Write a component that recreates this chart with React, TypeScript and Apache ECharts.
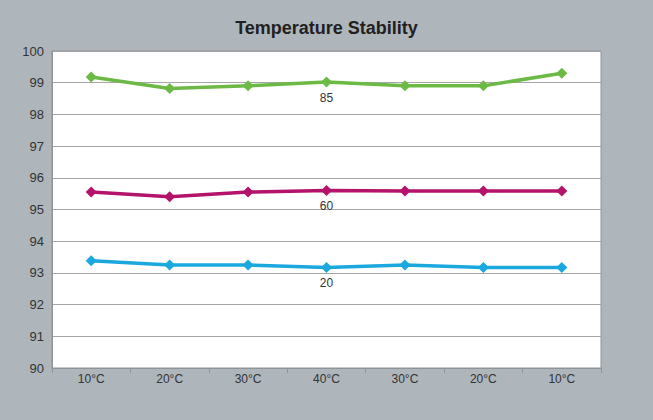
import React, { useEffect, useRef } from "react";
import * as echarts from "echarts";

const categories = ["10°C", "20°C", "30°C", "40°C", "30°C", "20°C", "10°C"];
const s85 = [99.18, 98.82, 98.9, 99.02, 98.9, 98.9, 99.3];
const s60 = [95.55, 95.4, 95.55, 95.6, 95.58, 95.58, 95.58];
const s20 = [93.38, 93.25, 93.25, 93.17, 93.25, 93.17, 93.17];
const seriesNames = ["85", "60", "20"];
const labelIndex = 3;

export default function App() {
  const ref = useRef<HTMLDivElement>(null);
  useEffect(() => {
    if (!ref.current) return;
    const chart = echarts.init(ref.current, undefined, { renderer: "svg" });
    const mk = (name: string, data: number[], color: string) => ({
      name,
      type: "line",
      data: data.map((v, i) =>
        i === labelIndex
          ? {
              value: v,
              label: {
                show: true,
                position: "bottom",
                distance: 4,
                formatter: name,
                color: "#333",
                fontSize: 12,
                fontFamily: "Liberation Sans, Arial, sans-serif",
              },
            }
          : v
      ),
      symbol: "diamond",
      symbolSize: 11,
      lineStyle: { color, width: 3.5 },
      itemStyle: { color },
      z: 3,
    });
    chart.setOption({
      animation: false,
      backgroundColor: "#aeb5bb",
      textStyle: { fontFamily: "Liberation Sans, Arial, sans-serif" },
      title: {
        text: "Temperature Stability",
        left: "center",
        top: 14,
        textStyle: { fontSize: 18, fontWeight: "bold", color: "#231f20" },
      },
      grid: {
        left: 52,
        right: 52,
        top: 51,
        bottom: 52,
        show: true,
        backgroundColor: "#ffffff",
        borderColor: "#8e9398",
        borderWidth: 1,
      },
      xAxis: {
        type: "category",
        data: categories,
        boundaryGap: true,
        axisLine: { lineStyle: { color: "#8e9398", width: 1 } },
        axisTick: { show: true, alignWithLabel: false, length: 5, lineStyle: { color: "#8e9398" } },
        axisLabel: { color: "#333", fontSize: 12, margin: 5 },
      },
      yAxis: {
        type: "value",
        min: 90,
        max: 100,
        interval: 1,
        axisLine: { show: true, lineStyle: { color: "#8e9398" } },
        axisTick: { show: false },
        axisLabel: { color: "#333", fontSize: 13, margin: 8 },
        splitLine: { lineStyle: { color: "#a6a6a6", width: 1 } },
      },
      series: [
        mk(seriesNames[0], s85, "#6cba45"),
        mk(seriesNames[1], s60, "#b3136b"),
        mk(seriesNames[2], s20, "#1aa8df"),
      ],
    });
    return () => chart.dispose();
  }, []);
  return (
    <div
      ref={ref}
      style={{ position: "fixed", left: 0, top: 0, width: 653, height: 420 }}
    />
  );
}
